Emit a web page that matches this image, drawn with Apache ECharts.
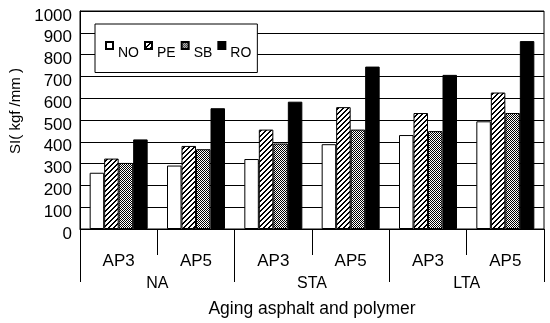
<!DOCTYPE html>
<html>
<head>
<meta charset="utf-8">
<script src="https://cdn.jsdelivr.net/npm/echarts@6/dist/echarts.min.js"></script>
<style>html,body{margin:0;padding:0;background:#fff;}#c{width:550px;height:323px;}</style>
</head>
<body>
<div id="c"></div>
<script>
const categories = ['AP3', 'AP5', 'AP3', 'AP5', 'AP3', 'AP5'];
const groups = ['NA', 'STA', 'LTA'];
const seriesNames = ['NO', 'PE', 'SB', 'RO'];
const NO = [258, 291, 321, 389, 431, 494];
const PE = [323, 381, 456, 559, 532, 626];
const SB = [303, 366, 392, 456, 449, 532];
const RO = [411, 554, 584, 745, 707, 862];
const yTicks = [0, 100, 200, 300, 400, 500, 600, 700, 800, 900, 1000];

function makePattern(size, fn) {
  const cv = document.createElement('canvas');
  cv.width = size; cv.height = size;
  const ctx = cv.getContext('2d');
  ctx.fillStyle = '#fff';
  ctx.fillRect(0, 0, size, size);
  ctx.fillStyle = '#000';
  for (let x = 0; x < size; x++) for (let y = 0; y < size; y++) if (fn(x, y)) ctx.fillRect(x, y, 1, 1);
  return { image: cv, repeat: 'repeat' };
}
const hatch = makePattern(5, (x, y) => (x + y) % 5 < 2);
const stipple = makePattern(2, (x, y) => (x + y) % 2 === 0);

const fills = ['#fff', hatch, stipple, '#000'];
const dataSets = [NO, PE, SB, RO];
const FONT = 'Liberation Sans';

const chart = echarts.init(document.getElementById('c'), null, { renderer: 'canvas' });
chart.setOption({
  animation: false,
  backgroundColor: '#fff',
  textStyle: { fontFamily: FONT, color: '#000' },
  grid: { left: 80, right: 6, top: 11, bottom: 90, show: true, borderColor: '#000', borderWidth: 1 },
  legend: {
    left: 95, top: 24,
    orient: 'horizontal',
    data: seriesNames,
    icon: 'rect',
    itemWidth: 7, itemHeight: 7, itemGap: 5,
    borderColor: '#000', borderWidth: 1,
    backgroundColor: '#fff',
    padding: [17, 6, 12, 10],
    formatter: name => '{a|' + name + '}',
    textStyle: {
      fontFamily: FONT, fontSize: 14, color: '#000',
      rich: { a: { fontFamily: FONT, fontSize: 14, color: '#000', padding: [16, 0, 0, 0] } }
    }
  },
  xAxis: [
    {
      type: 'category', data: categories, position: 'bottom',
      axisLine: { show: true, lineStyle: { color: '#000', width: 1 } },
      axisTick: { show: true, length: 26, lineStyle: { color: '#000' } },
      axisLabel: { margin: 24, fontSize: 17, color: '#000', fontFamily: FONT, interval: 0 },
      splitLine: { show: false }
    },
    {
      type: 'category', data: groups, position: 'bottom', offset: 0,
      axisLine: { show: false },
      axisTick: { show: true, length: 53, lineStyle: { color: '#000' } },
      axisLabel: { margin: 47, fontSize: 16, color: '#000', fontFamily: FONT, interval: 0 },
      name: 'Aging asphalt and polymer', nameLocation: 'middle', nameGap: 71,
      nameTextStyle: { fontSize: 17.5, color: '#000', fontFamily: FONT }
    }
  ],
  yAxis: {
    type: 'value', min: 0, max: 1000, interval: 100,
    name: 'SI( kgf /mm )', nameLocation: 'middle', nameGap: 50,
    nameTextStyle: { fontSize: 15, color: '#000', fontFamily: FONT, padding: [0, 0, 0, 18] },
    axisLine: { show: true, lineStyle: { color: '#000' } },
    axisTick: { show: false },
    axisLabel: {
      margin: 8, fontSize: 17, color: '#000', fontFamily: FONT,
      formatter: v => yTicks.includes(v) ? '{a|' + v + '}' : '',
      rich: { a: { fontSize: 17, fontFamily: FONT, color: '#000', padding: [10, 0, 0, 0] } }
    },
    splitLine: { show: true, lineStyle: { color: '#000', width: 1 } }
  },
  series: seriesNames.map((n, i) => ({
    name: n, type: 'bar', xAxisIndex: 0,
    data: dataSets[i],
    barWidth: 14.5, barGap: '0%',
    itemStyle: { color: fills[i], borderColor: '#000', borderWidth: 1 }
  }))
});
</script>
</body>
</html>
